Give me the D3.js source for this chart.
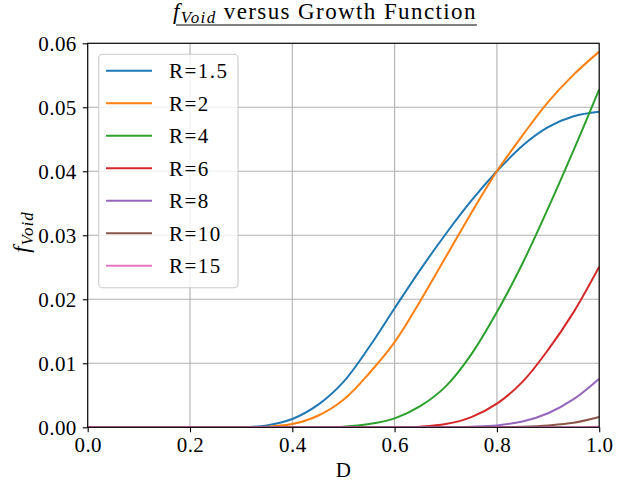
<!DOCTYPE html>
<html>
<head>
<meta charset="utf-8">
<script src="https://cdn.jsdelivr.net/npm/d3@7"></script>
<style>
  body { margin: 0; background: #fff; }
</style>
</head>
<body>
<div id="chart"></div>
<script>
var width = 636;
var height = 485;
var serif = "'Liberation Serif', 'DejaVu Serif', serif";

// growth parameter D, sampled every 0.05
var D = [0, 0.05, 0.1, 0.15, 0.2, 0.25, 0.3, 0.35, 0.4, 0.45, 0.5,
         0.55, 0.6, 0.65, 0.7, 0.75, 0.8, 0.85, 0.9, 0.95, 1.0];

var labels = ["R=1.5", "R=2", "R=4", "R=6", "R=8", "R=10", "R=15"];
var colors = ["#1f77b4", "#ff7f0e", "#2ca02c", "#d62728", "#9467bd", "#8c564b", "#e377c2"];

var fR1_5 = [0,0,0,0,0,0,0,0.0003,0.0013,0.0035,0.0071,0.0125,0.0186,0.0246,0.0302,0.0354,0.0400,0.0440,0.0469,0.0486,0.0493];
var fR2   = [0,0,0,0,0,0,0,0.0001,0.0005,0.0018,0.0043,0.0084,0.0133,0.0197,0.0266,0.0335,0.0400,0.0456,0.0508,0.0551,0.0587];
var fR4   = [0,0,0,0,0,0,0,0,0,0,0.0001,0.0005,0.0014,0.0033,0.0064,0.0114,0.0180,0.0256,0.0342,0.0433,0.0528];
var fR6   = [0,0,0,0,0,0,0,0,0,0,0,0,0,0.0001,0.0005,0.0016,0.0037,0.0071,0.0121,0.0180,0.0251];
var fR8   = [0,0,0,0,0,0,0,0,0,0,0,0,0,0,0,0.0001,0.0003,0.0009,0.0022,0.0044,0.0076];
var fR10  = [0,0,0,0,0,0,0,0,0,0,0,0,0,0,0,0,0,0.0001,0.0003,0.0007,0.0016];
var fR15  = [0,0,0,0,0,0,0,0,0,0,0,0,0,0,0,0,0,0,0,0,0.0001];

var series = [fR1_5, fR2, fR4, fR6, fR8, fR10, fR15];

var xTicks = [0, 0.2, 0.4, 0.6, 0.8, 1.0];
var yTicks = [0, 0.01, 0.02, 0.03, 0.04, 0.05, 0.06];

var pLeft = 87.7, pRight = 599.2, pTop = 43.3, pBottom = 427.3;

var x = d3.scaleLinear().domain([0, 1]).range([pLeft, pRight]);
var y = d3.scaleLinear().domain([0, 0.06]).range([pBottom, pTop]);

var svg = d3.select("#chart")
  .append("svg")
  .attr("width", width)
  .attr("height", height)
  .style("font-family", serif);

svg.append("defs").append("clipPath")
  .attr("id", "plotclip")
  .append("rect")
  .attr("x", pLeft)
  .attr("y", pTop)
  .attr("width", pRight - pLeft)
  .attr("height", pBottom - pTop);

// grid
var grid = svg.append("g");
grid.selectAll(".gx").data(xTicks).enter().append("line")
  .attr("x1", d => x(d)).attr("x2", d => x(d))
  .attr("y1", pTop).attr("y2", pBottom)
  .attr("stroke", "#b0b0b0").attr("stroke-width", 1.1);
grid.selectAll(".gy").data(yTicks).enter().append("line")
  .attr("x1", pLeft).attr("x2", pRight)
  .attr("y1", d => y(d)).attr("y2", d => y(d))
  .attr("stroke", "#b0b0b0").attr("stroke-width", 1.1);

// curves
var line = d3.line()
  .x(function(d, i) { return x(D[i]); })
  .y(function(d) { return y(d); })
  .curve(d3.curveCatmullRom.alpha(0.5));

svg.append("g")
  .attr("clip-path", "url(#plotclip)")
  .selectAll("path")
  .data(series)
  .enter().append("path")
  .attr("d", line)
  .attr("fill", "none")
  .attr("stroke", (d, i) => colors[i])
  .attr("stroke-width", 2);

// axes
var xAxis = svg.append("g")
  .attr("transform", "translate(0," + pBottom + ")")
  .call(d3.axisBottom(x).tickValues(xTicks).tickFormat(d3.format(".1f")).tickSize(5).tickPadding(5));
var yAxis = svg.append("g")
  .attr("transform", "translate(" + pLeft + ",0)")
  .call(d3.axisLeft(y).tickValues(yTicks).tickFormat(d3.format(".2f")).tickSize(5).tickPadding(6));
[xAxis, yAxis].forEach(function(a) {
  a.attr("font-family", null).attr("font-size", null);
  a.select(".domain").remove();
  a.selectAll(".tick line").attr("stroke", "#000").attr("stroke-width", 1.1);
  a.selectAll(".tick text").style("font-family", serif).style("font-size", "21px")
    .style("letter-spacing", "0.4px").attr("fill", "#000");
});

// frame
svg.append("rect")
  .attr("x", pLeft).attr("y", pTop)
  .attr("width", pRight - pLeft).attr("height", pBottom - pTop)
  .attr("fill", "none").attr("stroke", "#000").attr("stroke-width", 1.1);

// legend
var lg = svg.append("g");
lg.append("rect")
  .attr("x", 98.7).attr("y", 54.3)
  .attr("width", 139.3).attr("height", 233.4)
  .attr("rx", 4).attr("ry", 4)
  .attr("fill", "#fff").attr("fill-opacity", 0.8)
  .attr("stroke", "#cccccc").attr("stroke-width", 1.1);
var rows = lg.selectAll(".row").data(labels).enter().append("g")
  .attr("transform", (d, i) => "translate(0," + (70.7 + i * 32.5) + ")");
rows.append("line")
  .attr("x1", 106).attr("x2", 152)
  .attr("stroke", (d, i) => colors[i]).attr("stroke-width", 2);
rows.append("text")
  .attr("x", 169).attr("dy", "0.35em")
  .style("font-family", serif)
  .style("font-size", "21px")
  .style("letter-spacing", "1.5px")
  .text(d => d);

// title
var title = svg.append("text")
  .attr("x", 173).attr("y", 18.5)
  .style("font-family", serif)
  .style("font-size", "23px")
  .style("letter-spacing", "1.4px");
title.append("tspan").style("font-style", "italic").text("f");
title.append("tspan").style("font-style", "italic").style("font-size", "17px").attr("dy", 4).text("Void");
title.append("tspan").attr("dy", -4).text(" versus Growth Function");
var tb = title.node().getBBox();
svg.append("line")
  .attr("x1", tb.x + 3).attr("x2", tb.x + tb.width)
  .attr("y1", 25).attr("y2", 25)
  .attr("stroke", "#000").attr("stroke-width", 1.2);

// axis labels
svg.append("text")
  .attr("x", x(0.5)).attr("y", 477)
  .attr("text-anchor", "middle")
  .style("font-family", serif)
  .style("font-size", "21px")
  .text("D");

var yl = svg.append("text")
  .attr("transform", "translate(29,232) rotate(-90)")
  .attr("text-anchor", "middle")
  .style("font-family", serif)
  .style("font-size", "23px")
  .style("letter-spacing", "1px");
yl.append("tspan").style("font-style", "italic").text("f");
yl.append("tspan").style("font-style", "italic").style("font-size", "17px").attr("dy", 4).text("Void");
</script>
</body>
</html>
